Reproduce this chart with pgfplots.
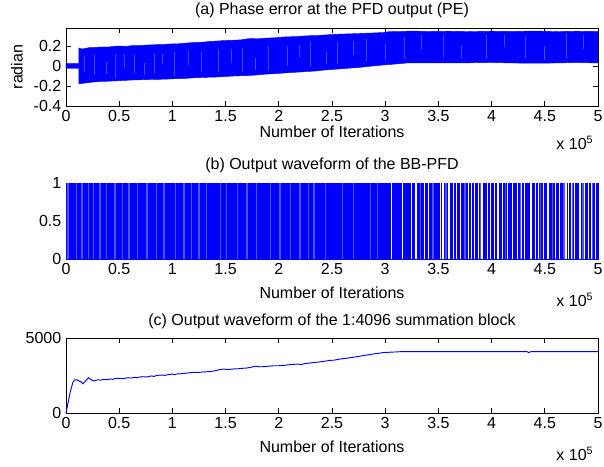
\documentclass[border=0pt]{standalone}
\usepackage{pgfplots}
\pgfplotsset{compat=1.18}
\usepackage{fontspec}
\setmainfont{Liberation Sans}
\newcommand\f{\fontsize{12}{14}\selectfont}
\pgfplotsset{
  panel/.style={
    scale only axis, width=399pt,
    anchor=north west,
    xmin=0, xmax=5,
    xtick={0,0.5,...,5},
    tick align=inside,
    major tick length=4pt,
    axis line style={line width=0.6pt},
    every tick/.style={black, line width=0.5pt},
    tick label style={font=\f},
    label style={font=\f},
    title style={font=\f, at={(0.5,1)}, anchor=base, yshift=3.75pt},
    xlabel={Number of Iterations},
    xlabel style={at={(axis description cs:0.5,0)}, anchor=base, yshift=-29.5pt},
    /pgf/number format/.cd, fixed, 1000 sep={}, assume math mode=true,
  },
}
\begin{document}
\begin{tikzpicture}
\path[use as bounding box] (0,0) rectangle (453pt,-350.25pt);

% ---------- (a)
\begin{axis}[panel, at={(49.5pt,-21pt)}, height=58.5pt,
  ymin=-0.4, ymax=0.38, ytick={-0.4,-0.2,0,0.2},
  yticklabels={-0.4,-0.2,0,0.2},
  title={(a) Phase error at the PFD output (PE)},
  xlabel style={yshift=6pt},
  clip=false]
\addplot[fill=blue, draw=blue, line width=0.3pt] coordinates {
(0,0.025) (0.12,0.025) (0.12,0.18) (0.15,0.17) (0.18,0.175) (0.22,0.185) (0.26,0.185) (0.33,0.19) (0.40,0.19)
(0.48,0.20) (0.57,0.197) (0.63,0.205) (0.70,0.205) (0.80,0.212) (0.89,0.214) (0.97,0.22) (1.05,0.222)
(1.12,0.228) (1.2,0.235) (1.28,0.238) (1.35,0.245) (1.42,0.25) (1.5,0.255) (1.58,0.258) (1.65,0.262)
(1.72,0.275) (1.79,0.272) (1.87,0.278) (1.95,0.282) (2.05,0.29) (2.17,0.295) (2.27,0.302) (2.35,0.305)
(2.43,0.31) (2.51,0.316) (2.62,0.32) (2.75,0.325) (2.88,0.33) (2.98,0.335)
(3.05,0.345) (3.1,0.343) (3.25,0.35) (3.4,0.345) (3.6,0.348) (3.8,0.344) (4.0,0.348) (4.2,0.345)
(4.4,0.35) (4.6,0.344) (4.8,0.348) (5,0.345)
(5,0.03) (4.8,0.035) (4.6,0.03) (4.4,0.028) (4.2,0.03) (4.0,0.035) (3.8,0.032) (3.6,0.03) (3.4,0.03)
(3.2,0.03) (3.1,0.02) (2.98,0.01) (2.88,0.0) (2.75,-0.015) (2.62,-0.025) (2.51,-0.034) (2.43,-0.04)
(2.35,-0.05) (2.27,-0.055) (2.17,-0.062) (2.05,-0.07) (1.95,-0.078) (1.87,-0.082) (1.79,-0.09)
(1.72,-0.095) (1.65,-0.097) (1.58,-0.1) (1.5,-0.105) (1.42,-0.11) (1.35,-0.112) (1.28,-0.115)
(1.2,-0.118) (1.12,-0.125) (1.05,-0.126) (0.97,-0.13) (0.89,-0.133) (0.80,-0.135) (0.70,-0.138)
(0.63,-0.14) (0.57,-0.143) (0.48,-0.148) (0.40,-0.152) (0.33,-0.155) (0.26,-0.16) (0.22,-0.165)
(0.18,-0.17) (0.15,-0.175) (0.12,-0.177) (0.12,-0.025) (0,-0.025)
} -- cycle;
\addplot[draw=none, mark=none,
  error bars/.cd, y dir=both, y explicit,
  error bar style={color=blue!72!white, line width=0.5pt}, error mark=none]
coordinates {
(0.17,0.02) +- (0,0.08)
(0.27,0.01) +- (0,0.10)
(0.38,-0.02) +- (0,0.06)
(0.46,0.0) +- (0,0.12)
(0.55,0.05) +- (0,0.07)
(0.64,0.02) +- (0,0.09)
(0.74,-0.03) +- (0,0.06)
(0.83,0.03) +- (0,0.10)
(0.91,0.07) +- (0,0.05)
(1.02,0.02) +- (0,0.12)
(1.15,0.08) +- (0,0.07)
(1.27,0.04) +- (0,0.10)
(1.43,0.05) +- (0,0.11)
(1.55,0.10) +- (0,0.07)
(1.66,0.06) +- (0,0.12)
(1.78,0.02) +- (0,0.06)
(1.90,0.08) +- (0,0.12)
(2.08,0.10) +- (0,0.10)
(2.19,0.15) +- (0,0.06)
(2.30,0.12) +- (0,0.12)
(2.45,0.08) +- (0,0.06)
(2.55,0.13) +- (0,0.11)
(2.70,0.18) +- (0,0.07)
(2.82,0.16) +- (0,0.11)
(3.00,0.14) +- (0,0.08)
(3.18,0.18) +- (0,0.11)
(3.34,0.24) +- (0,0.07)
(3.55,0.20) +- (0,0.11)
(3.72,0.14) +- (0,0.07)
(3.95,0.19) +- (0,0.12)
(4.12,0.25) +- (0,0.06)
(4.32,0.19) +- (0,0.11)
(4.50,0.13) +- (0,0.07)
(4.70,0.20) +- (0,0.12)
(4.86,0.24) +- (0,0.07)
};
\node[font=\f, rotate=90, anchor=center] at (axis description cs:-0.0921,0.5) {radian};
\node[font=\f, anchor=base east] at (rel axis cs:1,0) [yshift=-32.8pt] {x 10\textsuperscript{5}};
\end{axis}

% ---------- (b)
\begin{axis}[panel, at={(49.5pt,-137.25pt)}, height=57pt,
  ymin=0, ymax=1, ytick={0,0.5,1}, yticklabels={0,0.5,1},
  title={(b) Output waveform of the BB-PFD},
  clip=false]
\addplot[fill=blue, draw=blue, line width=0.3pt] coordinates {(0,0) (0,1) (5,1) (5,0)} -- cycle;
\addplot[ycomb, no marks, color=blue!68!white, line width=1.1pt] coordinates {
(0.02,1) (0.10,1) (0.15,1) (0.21,1) (0.26,1) (0.32,1) (0.38,1) (0.46,1) (0.53,1) (0.59,1)
(0.67,1) (0.76,1) (0.85,1) (0.92,1) (1.03,1) (1.11,1) (1.18,1) (1.25,1) (1.32,1) (1.45,1)
(1.51,1) (1.61,1) (1.70,1) (1.79,1) (1.92,1) (2.01,1) (2.11,1) (2.20,1) (2.28,1) (2.33,1)
(2.44,1) (2.60,1) (2.70,1) (2.86,1) (2.93,1) (3.33,1) (3.45,1) (3.57,1) (3.75,1) (3.90,1)
(4.13,1) (4.27,1) (4.46,1) (4.57,1) (4.68,1) (4.76,1) (4.86,1) (4.95,1)
};
\addplot[ycomb, no marks, color=white, line width=0.9pt] coordinates {
(3.06,1) (3.16,1) (3.25,1) (3.29,1) (3.37,1) (3.41,1) (3.52,1) (3.535,1) (3.55,1) (3.60,1)
(3.64,1) (3.67,1) (3.71,1) (3.78,1) (3.81,1) (3.84,1) (3.88,1) (3.91,1) (3.96,1) (3.99,1)
(4.03,1) (4.06,1) (4.10,1) (4.15,1) (4.20,1) (4.24,1) (4.28,1) (4.31,1) (4.37,1) (4.41,1)
(4.44,1) (4.49,1) (4.53,1) (4.60,1) (4.64,1) (4.70,1) (4.72,1) (4.75,1) (4.78,1) (4.83,1)
(4.87,1) (4.91,1) (4.94,1) (4.98,1)
};
\node[font=\f, anchor=base east] at (rel axis cs:1,0) [yshift=-35.8pt] {x 10\textsuperscript{5}};
\end{axis}

% ---------- (c)
\begin{axis}[panel, at={(49.5pt,-253.5pt)}, height=56.25pt,
  ymin=0, ymax=5000, ytick={0,5000},
  title={(c) Output waveform of the 1:4096 summation block},
  clip=false]
\addplot[blue, line width=0.7pt] coordinates {
(0,0) (0.02,700) (0.04,1400) (0.065,2050) (0.08,2200) (0.1,2220) (0.12,2150) (0.14,2080)
(0.16,1950) (0.18,2100) (0.21,2350) (0.23,2260) (0.26,2130) (0.28,2180) (0.30,2210) (0.33,2190) (0.35,2250)
(0.38,2220) (0.42,2270) (0.44,2240) (0.46,2300) (0.50,2310) (0.54,2290) (0.57,2350) (0.61,2330)
(0.65,2380) (0.67,2350) (0.69,2400) (0.72,2420) (0.76,2400) (0.80,2470) (0.83,2440) (0.85,2500) (0.89,2530)
(0.93,2510) (0.96,2560) (1.00,2590) (1.02,2560) (1.04,2600) (1.08,2620) (1.12,2650) (1.16,2680)
(1.20,2710) (1.24,2700) (1.28,2730) (1.32,2750) (1.35,2760) (1.39,2800) (1.42,2850)
(1.45,2900) (1.48,2930) (1.51,2900) (1.54,2910) (1.58,2940) (1.62,2950) (1.66,2980)
(1.70,3000) (1.74,3050) (1.78,3120) (1.82,3080) (1.86,3090) (1.90,3120) (1.95,3150)
(2.00,3150) (2.05,3180) (2.10,3220) (2.17,3260) (2.21,3240) (2.25,3300) (2.30,3340)
(2.35,3380) (2.40,3420) (2.44,3460) (2.48,3510) (2.52,3520) (2.56,3580) (2.60,3620)
(2.65,3660) (2.70,3720) (2.74,3760) (2.79,3820) (2.84,3880) (2.90,3950) (2.94,3980)
(2.98,4030) (3.02,4040) (3.06,4060) (3.10,4070) (3.15,4090) (3.22,4096) (4.33,4096)
(4.35,4030) (4.37,4096) (5,4096)
};
\node[font=\f, anchor=base east] at (rel axis cs:1,0) [yshift=-35.8pt] {x 10\textsuperscript{5}};
\end{axis}
\end{tikzpicture}
\end{document}
